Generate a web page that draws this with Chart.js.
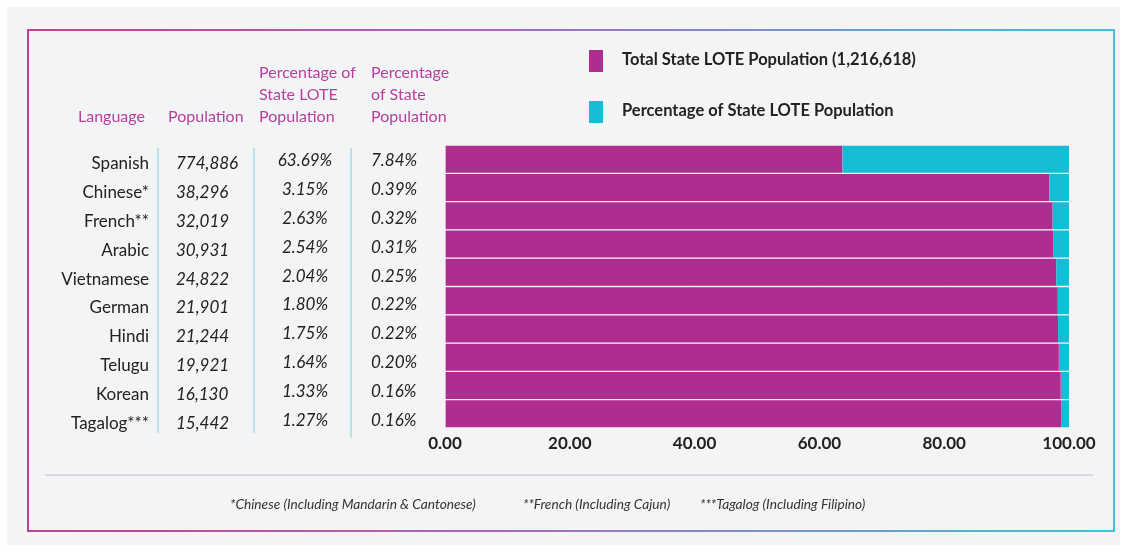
<!DOCTYPE html>
<html>
<head>
<meta charset="utf-8">
<script src="https://cdn.jsdelivr.net/npm/chart.js@4.4.0/dist/chart.umd.min.js"></script>
<style>
  body { margin: 0; background: #ffffff; font-family: Lato, sans-serif; }
  #panel { position: absolute; left: 7px; top: 7px; width: 1113px; height: 538px; background: #f3f4f6; }
  #frame { position: absolute; left: 27px; top: 29px; width: 1084px; height: 499px;
           border: 2px solid; border-image: linear-gradient(90deg, #c23f98, #a86cb8 45%, #3ec3dc) 1; }
  #wrap { position: absolute; left: 0; top: 0; width: 1123px; height: 552px; }
</style>
</head>
<body>
<div id="panel"></div>
<div id="frame"></div>
<div id="wrap"><canvas id="langChart" width="1123" height="552"></canvas></div>
<script>
const languages = ['Spanish', 'Chinese*', 'French**', 'Arabic', 'Vietnamese', 'German', 'Hindi', 'Telugu', 'Korean', 'Tagalog***'];
const population = ['774,886', '38,296', '32,019', '30,931', '24,822', '21,901', '21,244', '19,921', '16,130', '15,442'];
const pctLote = ['63.69%', '3.15%', '2.63%', '2.54%', '2.04%', '1.80%', '1.75%', '1.64%', '1.33%', '1.27%'];
const pctState = ['7.84%', '0.39%', '0.32%', '0.31%', '0.25%', '0.22%', '0.22%', '0.20%', '0.16%', '0.16%'];
// bar segments as drawn in the picture
const totalSeg = [63.69, 96.85, 97.37, 97.46, 97.96, 98.20, 98.25, 98.36, 98.67, 98.73];
const loteSeg = [36.31, 3.15, 2.63, 2.54, 2.04, 1.80, 1.75, 1.64, 1.33, 1.27];
const legendLabels = ['Total State LOTE Population (1,216,618)', 'Percentage of State LOTE Population'];
const footnotes = ['*Chinese (Including Mandarin & Cantonese)', '**French (Including Cajun)', '***Tagalog (Including Filipino)'];

const MAGENTA = '#ae2d8f';
const CYAN = '#14bdd5';
const HEAD = '#b83f9c';

const tablePlugin = {
    id: 'tablePlugin',
    afterDraw(chart) {
        const ctx = chart.ctx;
        const y = chart.scales.y;
        ctx.save();
        ctx.textBaseline = 'middle';

        // column headers
        ctx.fillStyle = HEAD;
        ctx.font = '16px Lato';
        ctx.textAlign = 'left';
        ctx.fillText('Language', 78, 117);
        ctx.fillText('Population', 168, 117);
        ['Percentage of', 'State LOTE', 'Population'].forEach((t, i) => ctx.fillText(t, 259, 73 + i * 22));
        ['Percentage', 'of State', 'Population'].forEach((t, i) => ctx.fillText(t, 371, 73 + i * 22));

        // rows, positioned from the category scale
        languages.forEach((lang, i) => {
            const py = y.getPixelForValue(i) + 4 + i * 0.67;
            ctx.fillStyle = '#222';
            ctx.font = '17px Lato';
            ctx.textAlign = 'right';
            ctx.fillText(lang, 149, py);
            ctx.font = 'italic 17px Lato';
            ctx.textAlign = 'left';
            ctx.fillText(population[i], 176, py);
            ctx.textAlign = 'center';
            ctx.fillText(pctLote[i], 305, py - 3);
            ctx.textAlign = 'left';
            ctx.fillText(pctState[i], 371, py - 3);
        });

        // column dividers
        ctx.strokeStyle = '#a9dbe6';
        ctx.lineWidth = 1.5;
        [[158, 433], [254, 433], [351, 438]].forEach(([x, yb]) => {
            ctx.beginPath();
            ctx.moveTo(x, 148);
            ctx.lineTo(x, yb);
            ctx.stroke();
        });

        // legend
        const colors = [MAGENTA, CYAN];
        legendLabels.forEach((t, i) => {
            const ly = 50 + i * 51;
            ctx.fillStyle = colors[i];
            ctx.fillRect(589, ly, 14, 22);
            ctx.fillStyle = '#222';
            ctx.font = 'bold 16.5px Lato';
            ctx.textAlign = 'left';
            ctx.fillText(t, 622, ly + 10);
        });

        // footnote rule and notes
        ctx.strokeStyle = '#cfd1d4';
        ctx.lineWidth = 1.5;
        ctx.beginPath();
        ctx.moveTo(45, 475);
        ctx.lineTo(1093, 475);
        ctx.stroke();
        ctx.fillStyle = '#333';
        ctx.font = 'italic 13.7px Lato';
        [230, 523, 700].forEach((x, i) => ctx.fillText(footnotes[i], x, 505));
        ctx.restore();
    }
};

new Chart(document.getElementById('langChart'), {
    type: 'bar',
    data: {
        labels: languages,
        datasets: [{
            label: legendLabels[0],
            data: totalSeg,
            backgroundColor: MAGENTA,
            borderColor: '#f4f4f6',
            borderWidth: {top: 1, bottom: 1, left: 0, right: 0},
            borderSkipped: false,
            barPercentage: 1,
            categoryPercentage: 1
        }, {
            label: legendLabels[1],
            data: loteSeg,
            backgroundColor: CYAN,
            borderColor: '#f4f4f6',
            borderWidth: {top: 1, bottom: 1, left: 0, right: 0},
            borderSkipped: false,
            barPercentage: 1,
            categoryPercentage: 1
        }]
    },
    options: {
        indexAxis: 'y',
        responsive: false,
        animation: false,
        layout: { padding: { left: 445, right: 54, top: 145, bottom: 93.6 } },
        plugins: { legend: { display: false }, tooltip: { enabled: false } },
        scales: {
            x: {
                stacked: true,
                min: 0,
                max: 100,
                border: { display: false },
                grid: { color: '#ffffff', drawTicks: false },
                ticks: {
                    stepSize: 20,
                    padding: 5,
                    color: '#222',
                    font: { family: 'Lato', size: 17, weight: 'bold' },
                    callback: v => v.toFixed(2)
                }
            },
            y: { stacked: true, display: false }
        }
    },
    plugins: [tablePlugin]
});
</script>
</body>
</html>
